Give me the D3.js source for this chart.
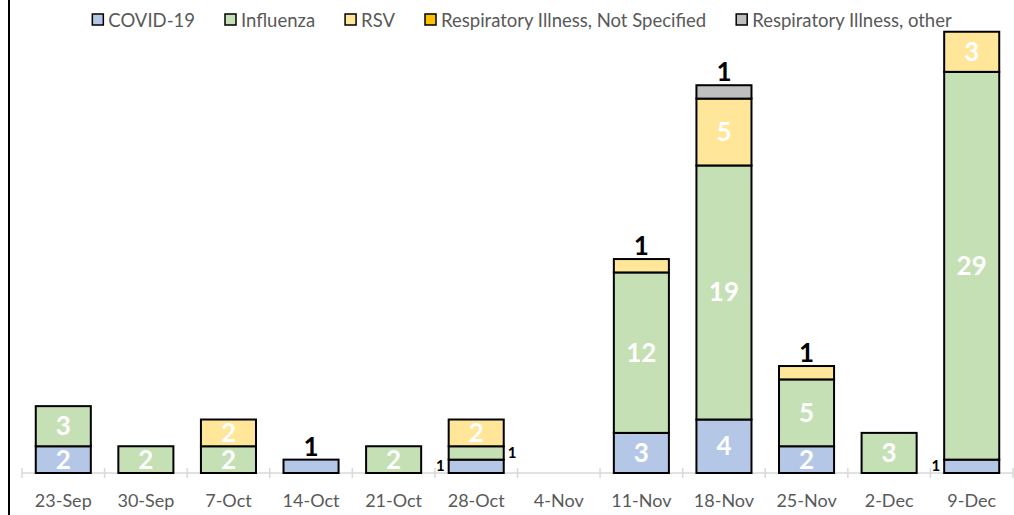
<!DOCTYPE html>
<html>
<head>
<meta charset="utf-8">
<script src="https://cdn.jsdelivr.net/npm/d3@7"></script>
<style>
  body { margin: 0; background: #fff; }
  text { font-family: Lato, "Open Sans", sans-serif; }
</style>
</head>
<body>
<svg id="chart" width="1014" height="515"></svg>
<script>
// weekly counts
var weeks = ["23-Sep", "30-Sep", "7-Oct", "14-Oct", "21-Oct", "28-Oct", "4-Nov", "11-Nov", "18-Nov", "25-Nov", "2-Dec", "9-Dec"];
var seriesNames = ["COVID-19", "Influenza", "RSV", "Respiratory Illness, Not Specified", "Respiratory Illness, other"];
var covid     = [2, 0, 0, 1, 0, 1, 0, 3, 4, 2, 0, 1];
var influenza = [3, 2, 2, 0, 2, 1, 0, 12, 19, 5, 3, 29];
var rsv       = [0, 0, 2, 0, 0, 2, 0, 1, 5, 1, 0, 3];
var notSpec   = [0, 0, 0, 0, 0, 0, 0, 0, 0, 0, 0, 0];
var other     = [0, 0, 0, 0, 0, 0, 0, 0, 1, 0, 0, 0];
var colours = ["#B4C7E7", "#C5E0B4", "#FFE699", "#FFC000", "#BFBFBF"];

var svg = d3.select("#chart");
var W = 1014, H = 515;
var baseY = 473;

var rows = weeks.map(function(w, i) {
    return { week: w, s0: covid[i], s1: influenza[i], s2: rsv[i], s3: notSpec[i], s4: other[i] };
});
var keys = ["s0", "s1", "s2", "s3", "s4"];
var stacked = d3.stack().keys(keys)(rows);

var x = d3.scaleBand().domain(weeks).range([22, 1013]).paddingInner(1 / 3).paddingOuter(1 / 6);
var y = d3.scaleLinear().domain([0, 35]).range([baseY, 5]);

// left border line
svg.append("line").attr("x1", 9).attr("x2", 9).attr("y1", 0).attr("y2", H)
   .attr("stroke", "#000").attr("stroke-width", 2);

// category axis
var step = x.step();
var axisG = svg.append("g");
axisG.append("line").attr("x1", 22).attr("x2", 1013).attr("y1", baseY).attr("y2", baseY)
     .attr("stroke", "#D9D9D9").attr("stroke-width", 1.5);
d3.range(weeks.length + 1).forEach(function(i) {
    var tx = 22 + i * step;
    axisG.append("line").attr("x1", tx).attr("x2", tx).attr("y1", baseY - 5).attr("y2", baseY + 5)
         .attr("stroke", "#D9D9D9").attr("stroke-width", 1.5);
});
axisG.selectAll("text.tick").data(weeks).enter().append("text")
     .attr("x", function(d) { return x(d) + x.bandwidth() / 2; })
     .attr("y", 507)
     .attr("text-anchor", "middle")
     .attr("font-size", 18)
     .attr("fill", "#595959")
     .text(function(d) { return d; });

// bars
var layer = svg.selectAll("g.layer").data(stacked).enter().append("g")
    .attr("fill", function(d, i) { return colours[i]; });
layer.selectAll("rect").data(function(d) { return d.filter(function(s) { return s[1] > s[0]; }); })
    .enter().append("rect")
    .attr("x", function(d) { return x(d.data.week); })
    .attr("width", x.bandwidth())
    .attr("y", function(d) { return y(d[1]); })
    .attr("height", function(d) { return y(d[0]) - y(d[1]); })
    .attr("stroke", "#000").attr("stroke-width", 2);

// labels
stacked.forEach(function(ser, si) {
    ser.forEach(function(d, wi) {
        var v = d[1] - d[0];
        if (v <= 0) return;
        var cx = x(d.data.week) + x.bandwidth() / 2;
        var isTop = keys.slice(si + 1).every(function(k) { return d.data[k] === 0; });
        var t = svg.append("text").attr("font-weight", "bold").text(v);
        if (v > 1) {
            t.attr("x", cx).attr("y", (y(d[0]) + y(d[1])) / 2 + 9)
             .attr("text-anchor", "middle").attr("font-size", 26).attr("fill", "#fff");
        } else if (isTop) {
            t.attr("x", cx).attr("y", y(d[1]) - 4)
             .attr("text-anchor", "middle").attr("font-size", 26).attr("fill", "#000");
        } else if (si === 0) {
            t.attr("x", x(d.data.week) - 4).attr("y", (y(d[0]) + y(d[1])) / 2 + 5)
             .attr("text-anchor", "end").attr("font-size", 15).attr("fill", "#000");
        } else {
            t.attr("x", x(d.data.week) + x.bandwidth() + 4).attr("y", (y(d[0]) + y(d[1])) / 2 + 5)
             .attr("text-anchor", "start").attr("font-size", 15).attr("fill", "#000");
        }
    });
});

// legend, laid out left to right and centred
var leg = svg.append("g");
var lx = 0, gap = 30;
seriesNames.forEach(function(name, i) {
    var g = leg.append("g").attr("transform", "translate(" + lx + ",0)");
    g.append("rect").attr("x", 0).attr("y", 14).attr("width", 11).attr("height", 11)
     .attr("fill", colours[i]).attr("stroke", "#000").attr("stroke-width", 1.5);
    var t = g.append("text").attr("x", 16).attr("y", 26.5).attr("font-size", 18.5)
     .attr("fill", "#595959").text(name);
    lx += 16 + t.node().getComputedTextLength() + gap;
});
leg.attr("transform", "translate(" + (522 - (lx - gap) / 2) + ",0)");
</script>
</body>
</html>
